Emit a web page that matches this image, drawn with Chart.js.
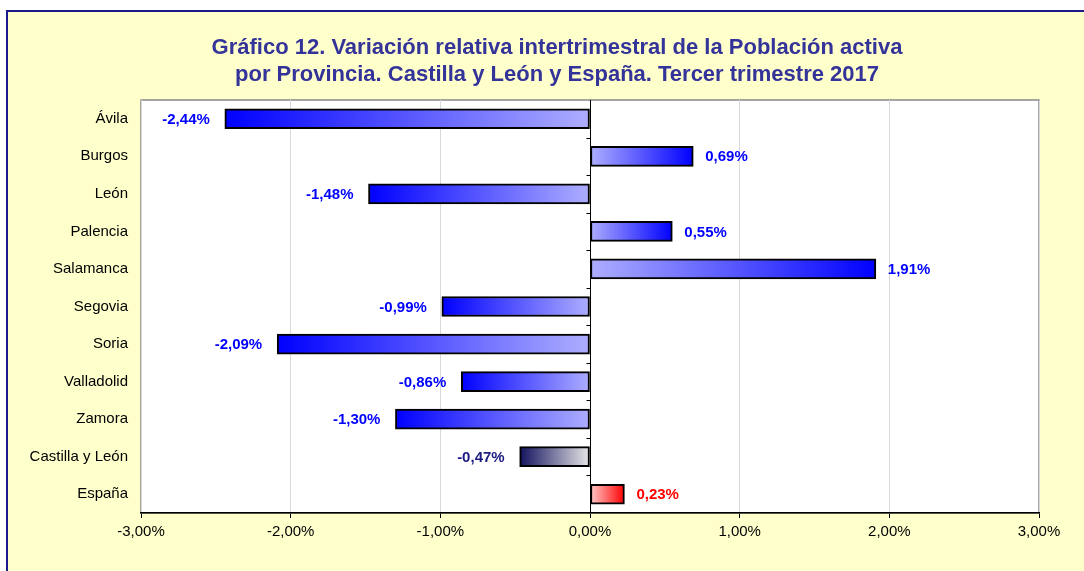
<!DOCTYPE html>
<html>
<head>
<meta charset="utf-8">
<script src="https://cdn.jsdelivr.net/npm/chart.js@4/dist/chart.umd.min.js"></script>
<style>
html,body{margin:0;padding:0;background:#fff;}
canvas{display:block;}
</style>
</head>
<body>
<canvas id="c" width="1084" height="571"></canvas>
<script>
const categories = ["Ávila","Burgos","León","Palencia","Salamanca","Segovia","Soria","Valladolid","Zamora","Castilla y León","España"];
const values = [-2.44, 0.69, -1.48, 0.55, 1.91, -0.99, -2.09, -0.86, -1.30, -0.47, 0.23];
const xTicks = [-3, -2, -1, 0, 1, 2, 3];
const titleLines = ["Gráfico 12. Variación relativa intertrimestral de la Población activa",
                    "por Provincia. Castilla y León y España. Tercer trimestre 2017"];

const FONT = "'Liberation Sans', Arial, sans-serif";
const fmt = v => v.toFixed(2).replace('.', ',') + '%';

function kindOf(i){
  if (categories[i] === 'España') return 'esp';
  if (categories[i] === 'Castilla y León') return 'cyl';
  return 'prov';
}
const palette = {
  prov: {tip:'#0000FF', base:'#AEAEFF', label:'#0000FF'},
  cyl:  {tip:'#12125E', base:'#E8E8E8', label:'#1A1A80'},
  esp:  {tip:'#FF0000', base:'#FFCCCC', label:'#FF0000'}
};

const bgPlugin = {
  id:'bg',
  beforeDraw(chart){
    const ctx = chart.ctx, a = chart.chartArea;
    ctx.save();
    ctx.fillStyle = '#FFFFFF';
    ctx.fillRect(0,0,chart.width,chart.height);
    ctx.fillStyle = '#FFFFCC';
    ctx.fillRect(6,10,chart.width,chart.height);
    ctx.strokeStyle = '#1A1A8C';
    ctx.lineWidth = 2;
    ctx.beginPath();
    ctx.moveTo(7, chart.height+5);
    ctx.lineTo(7, 11);
    ctx.lineTo(chart.width+5, 11);
    ctx.stroke();
    ctx.fillStyle = '#FFFFFF';
    ctx.fillRect(a.left, a.top, a.right-a.left, a.bottom-a.top);
    ctx.strokeStyle = '#888888';
    ctx.lineWidth = 1.5;
    ctx.strokeRect(a.left, a.top, a.right-a.left, a.bottom-a.top);
    // title
    ctx.fillStyle = '#333399';
    ctx.font = 'bold 22px ' + FONT;
    ctx.textAlign = 'center';
    ctx.textBaseline = 'middle';
    ctx.fillText(titleLines[0], 557, 48);
    ctx.fillText(titleLines[1], 557, 75);
    ctx.restore();
  },
  beforeDatasetsDraw(chart){
    const ctx = chart.ctx, a = chart.chartArea;
    const xs = chart.scales.x, ys = chart.scales.y;
    const x0 = Math.round(xs.getPixelForValue(0)) + 0.5;
    ctx.save();
    ctx.strokeStyle = '#000';
    ctx.lineWidth = 1;
    ctx.beginPath();
    ctx.moveTo(x0, a.top);
    ctx.lineTo(x0, a.bottom);
    const n = categories.length;
    const step = (a.bottom - a.top) / n;
    for (let i = 1; i < n; i++){
      const y = Math.round(ys.getPixelForValue(i) - step/2) + 0.5;
      ctx.moveTo(x0 - 4, y);
      ctx.lineTo(x0, y);
    }
    ctx.stroke();
    ctx.restore();
  },
  afterDatasetsDraw(chart){
    const ctx = chart.ctx;
    const meta = chart.getDatasetMeta(0);
    ctx.save();
    ctx.font = 'bold 15px ' + FONT;
    ctx.textBaseline = 'middle';
    meta.data.forEach((el, i) => {
      const v = values[i];
      ctx.fillStyle = palette[kindOf(i)].label;
      if (v < 0){
        ctx.textAlign = 'right';
        ctx.fillText(fmt(v), el.x - 15, el.y + 1);
      } else {
        ctx.textAlign = 'left';
        ctx.fillText(fmt(v), el.x + 12, el.y + 1);
      }
    });
    ctx.restore();
  }
};

new Chart(document.getElementById('c'), {
  type: 'bar',
  data: {
    labels: categories,
    datasets: [{
      data: values,
      barThickness: 20,
      borderWidth: 2,
      borderColor: '#000000',
      borderSkipped: false,
      backgroundColor(ctx){
        const chart = ctx.chart;
        const xs = chart.scales.x;
        if (!chart.chartArea || !xs || ctx.dataIndex === undefined) return '#8888FF';
        const v = values[ctx.dataIndex];
        const p = palette[kindOf(ctx.dataIndex)];
        const xb = xs.getPixelForValue(0), xt = xs.getPixelForValue(v);
        if (!isFinite(xb) || !isFinite(xt) || xb === xt) return p.base;
        const g = chart.ctx.createLinearGradient(xt, 0, xb, 0);
        g.addColorStop(0, p.tip);
        g.addColorStop(1, p.base);
        return g;
      }
    }]
  },
  options: {
    indexAxis: 'y',
    responsive: false,
    animation: false,
    layout: { padding: { left: 10, right: 45, top: 100, bottom: 0 } },
    plugins: {
      legend: { display: false },
      tooltip: { enabled: false },
      title: { display: false }
    },
    scales: {
      x: {
        position: 'bottom',
        min: xTicks[0],
        max: xTicks[xTicks.length-1],
        afterBuildTicks(scale){ scale.ticks = xTicks.map(v => ({value: v})); },
        afterFit(scale){ scale.height = 58; },
        ticks: {
          callback: v => fmt(v),
          color: '#000',
          font: { family: FONT, size: 15 },
          padding: 5,
          maxRotation: 0,
          autoSkip: false
        },
        grid: { color: '#D9D9D9', tickColor: '#000', tickLength: 5, lineWidth: 1 },
        border: { color: '#000', width: 1.5 }
      },
      y: {
        afterFit(scale){ scale.width = 131; },
        ticks: { color: '#000', font: { family: FONT, size: 15 }, padding: 13, autoSkip: false },
        grid: { display: false, drawTicks: false },
        border: { display: false }
      }
    }
  },
  plugins: [bgPlugin]
});
</script>
</body>
</html>
